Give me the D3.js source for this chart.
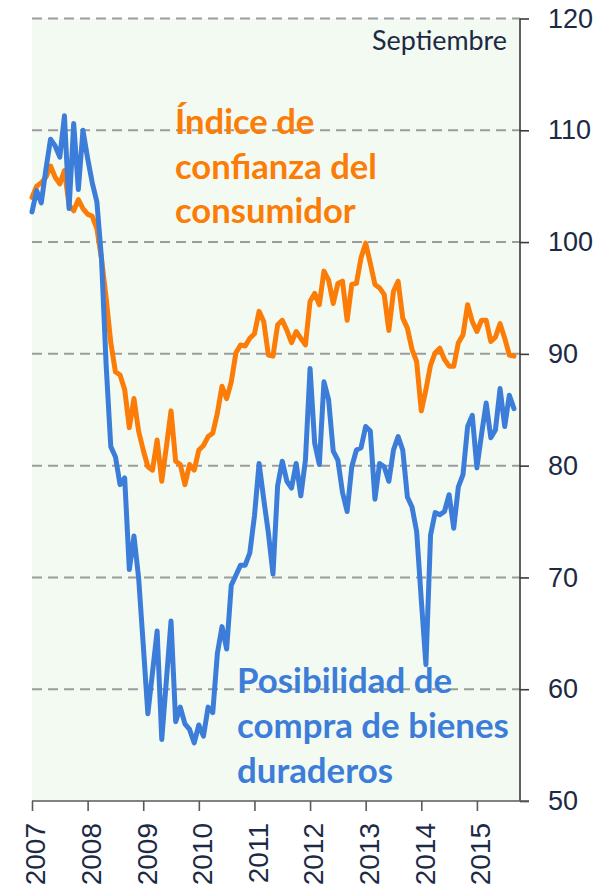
<!DOCTYPE html>
<html>
<head>
<meta charset="utf-8">
<script src="https://cdn.jsdelivr.net/npm/d3@7"></script>
<style>
  html, body { margin: 0; padding: 0; background: #ffffff; }
  svg { display: block; }
</style>
</head>
<body>
<div id="chart"></div>
<script>
// ---------------- DATA (monthly, Jan 2007 .. Sep 2015) ----------------
const years = ["2007","2008","2009","2010","2011","2012","2013","2014","2015"];
const yTicks = [50, 60, 70, 80, 90, 100, 110, 120];

const confianza = [
  104.0,105.0,105.3,105.8,106.8,105.8,105.2,106.4,103.3,102.8,103.8,103.0,
  102.5,102.3,101.2,98.5,95.0,91.0,88.4,88.1,86.8,83.4,86.0,83.1,
  81.4,79.9,79.6,82.3,78.6,81.7,84.9,80.4,80.1,78.3,80.1,79.6,
  81.4,81.8,82.6,82.9,84.7,87.1,86.0,87.5,90.1,90.8,90.7,91.4,
  91.8,93.8,92.9,89.9,89.8,92.6,93.0,92.1,91.0,92.0,91.4,90.8,
  94.7,95.4,94.4,97.4,96.6,94.5,96.3,96.5,93.0,96.2,96.3,98.6,
  99.9,98.1,96.2,95.9,95.3,92.1,95.6,96.5,93.2,92.3,90.4,89.3,
  84.9,86.8,89.0,90.1,90.5,89.5,88.9,88.9,91.0,91.7,94.4,92.9,
  92.0,93.0,93.0,91.1,91.5,92.7,91.4,89.9,89.8
];

const duraderos = [
  102.7,104.6,103.5,106.5,109.2,108.6,107.6,111.3,103.0,110.6,104.7,110.0,
  107.5,105.3,103.6,98.5,89.0,81.7,80.8,78.3,78.9,70.7,73.7,70.0,
  64.0,57.8,61.5,65.2,55.5,60.8,66.1,57.1,58.4,56.9,56.4,55.2,
  56.8,55.8,58.4,57.9,63.2,65.6,63.6,69.3,70.2,71.1,71.1,72.2,
  75.5,80.2,77.0,74.0,70.3,78.2,80.4,78.6,78.0,80.2,77.3,80.5,
  88.7,82.0,80.1,87.5,85.9,81.3,80.5,77.6,75.9,79.9,81.4,81.6,
  83.5,83.1,77.0,80.2,79.9,78.6,81.4,82.6,81.4,77.2,76.3,74.1,
  68.0,62.2,73.8,75.8,75.6,75.9,77.4,74.4,78.1,79.2,83.5,84.5,
  79.8,82.8,85.6,82.5,83.2,86.9,83.5,86.3,85.1
];

const labelConfianza = ["Índice de", "confianza del", "consumidor"];
const labelDuraderos = ["Posibilidad de", "compra de bienes", "duraderos"];
const noteText = "Septiembre";

(function () {
// ---------------- LAYOUT ----------------
const W = 606, H = 893;
const pL = 32, pR = 520, pT = 18.5, pB = 801;
const orange = "#fb7c06", blue = "#3c7dd9", ink = "#1c2a45", axisCol = "#5a5a5a";

const svg = d3.select("#chart").append("svg")
  .attr("width", W).attr("height", H);

const x = d3.scaleLinear().domain([0, 105.3]).range([pL, pR]);
const y = d3.scaleLinear().domain([50, 120]).range([pB, pT]);

// background
svg.append("rect")
  .attr("x", pL).attr("y", pT)
  .attr("width", pR - pL).attr("height", pB - pT)
  .attr("fill", "#f3faf2");

// gridlines
svg.append("g")
  .selectAll("line")
  .data(yTicks.filter(d => d > 50))
  .join("line")
  .attr("x1", pL).attr("x2", pR)
  .attr("y1", d => y(d)).attr("y2", d => y(d))
  .attr("stroke", "#9c9c9c")
  .attr("stroke-width", 2)
  .attr("stroke-dasharray", "10,6");

// series lines
const line = d3.line()
  .x((d, i) => x(i))
  .y(d => y(d));

svg.append("path")
  .datum(confianza)
  .attr("d", line)
  .attr("fill", "none")
  .attr("stroke", orange)
  .attr("stroke-width", 5)
  .attr("stroke-linejoin", "round")
  .attr("stroke-linecap", "round");

svg.append("path")
  .datum(duraderos)
  .attr("d", line)
  .attr("fill", "none")
  .attr("stroke", blue)
  .attr("stroke-width", 5)
  .attr("stroke-linejoin", "round")
  .attr("stroke-linecap", "round");

// right axis
const yAxis = d3.axisRight(y).tickValues(yTicks).tickSize(9).tickPadding(19)
  .tickFormat(d3.format("d"));
const gy = svg.append("g")
  .attr("transform", `translate(${pR},0)`)
  .call(yAxis);
gy.select(".domain").attr("stroke", "#3a3a3a").attr("stroke-width", 1.6)
  .attr("d", `M0,${pT}V${pB}`);
gy.selectAll(".tick line").attr("stroke", "#3a3a3a").attr("stroke-width", 1.6);
gy.selectAll(".tick text")
  .attr("fill", ink)
  .style("font-family", "'Liberation Sans', Arial, sans-serif")
  .style("font-size", "27px");

// bottom axis
const xAxis = d3.axisBottom(x)
  .tickValues(years.map((d, i) => i * 12))
  .tickSize(10)
  .tickFormat((d, i) => years[i]);
const gx = svg.append("g")
  .attr("transform", `translate(0,${pB})`)
  .call(xAxis);
gx.select(".domain").attr("stroke", axisCol).attr("stroke-width", 1.6)
  .attr("d", `M${pL},0H${pR + 9}`);
gx.selectAll(".tick line").attr("stroke", axisCol).attr("stroke-width", 1.6);
gx.selectAll(".tick text")
  .attr("fill", ink)
  .style("font-family", "'Liberation Sans', Arial, sans-serif")
  .style("font-size", "28px")
  .attr("text-anchor", "end")
  .attr("transform", "rotate(-90)")
  .attr("x", -22)
  .attr("y", 3)
  .attr("dy", "0.35em");

// note
const note = svg.append("text")
  .attr("x", 507).attr("y", 50)
  .attr("text-anchor", "end")
  .attr("fill", ink)
  .style("font-family", "Lato, 'Open Sans', sans-serif")
  .style("font-size", "26px")
  .text(noteText);
const nw = note.node().getComputedTextLength();
note.style("font-size", (26 * 135 / nw) + "px");

// series labels (fit font size to measured widths)
function drawLabel(lines, x0, y0, lh, color, refIdx, targetW) {
  const g = svg.append("g");
  const t = g.selectAll("text").data(lines).join("text")
    .attr("x", x0)
    .attr("y", (d, i) => y0 + i * lh)
    .attr("fill", color)
    .style("font-family", "Lato, 'Open Sans', sans-serif")
    .style("font-weight", "bold")
    .style("font-size", "30px")
    .text(d => d);
  const w = t.nodes()[refIdx].getComputedTextLength();
  const fs = 30 * targetW / w;
  t.style("font-size", fs + "px");
}
drawLabel(labelConfianza, 175, 134, 44.5, orange, 1, 202);
drawLabel(labelDuraderos, 237, 693, 45, blue, 1, 272);
})();
</script>
</body>
</html>
